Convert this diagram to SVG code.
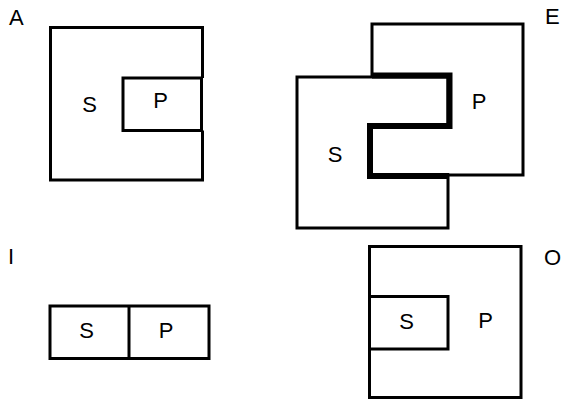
<svg xmlns="http://www.w3.org/2000/svg" width="575" height="400" viewBox="0 0 575 400">
<style>
.s{fill:none;stroke:#000;stroke-width:3;stroke-linejoin:miter}
.t{font-family:"Liberation Sans",Arial,sans-serif;font-size:22px;fill:#000}
.m{text-anchor:middle}
</style>
<rect width="575" height="400" fill="#fff"/>
<g id="A">
<path class="s" d="M202.5,78 V27.5 H50.5 V180 H202.5 V130.5"/>
<rect class="s" x="123" y="78" width="78.5" height="52.5"/>
<text class="t" x="9" y="25">A</text>
<text class="t m" x="89.5" y="112">S</text>
<text class="t m" x="160.5" y="108">P</text>
</g>
<g id="E">
<path class="s" d="M297,77 H448 V126 H371 V175 H448 V228 H297 Z"/>
<path class="s" d="M372,77 V24 H523 V175 H448"/>
<path fill="none" stroke="#000" stroke-width="6" d="M372,75.5 H449.5 V126 H370 V176 H449"/>
<text class="t" x="545" y="24">E</text>
<text class="t m" x="335" y="162">S</text>
<text class="t m" x="479" y="109">P</text>
</g>
<g id="I">
<rect class="s" x="50" y="306" width="159" height="52.5"/>
<line class="s" x1="129" y1="306" x2="129" y2="358.5"/>
<text class="t" x="8" y="264">I</text>
<text class="t m" x="86.5" y="338">S</text>
<text class="t m" x="166" y="338">P</text>
</g>
<g id="O">
<rect class="s" x="369.5" y="246.5" width="151.5" height="151"/>
<rect class="s" x="369.5" y="296.5" width="78.5" height="52.5"/>
<text class="t" x="544" y="265">O</text>
<text class="t m" x="406.5" y="329">S</text>
<text class="t m" x="485.5" y="328">P</text>
</g>
</svg>
